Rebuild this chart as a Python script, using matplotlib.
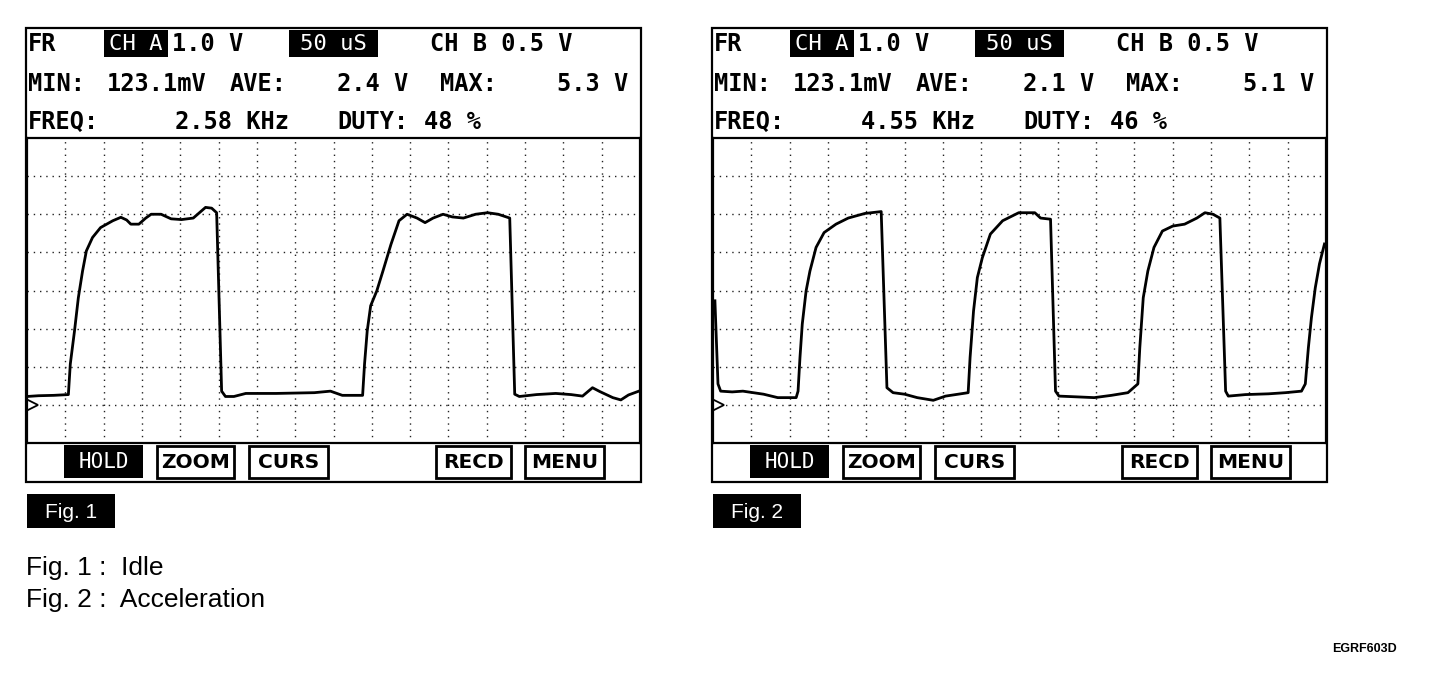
import matplotlib
matplotlib.use("Agg")
import matplotlib.pyplot as plt
from matplotlib.patches import Rectangle

W, H = 1440, 676

# traces in screen divisions (16 across, 8 up)
fig1_t = [0.0, 0.3, 0.7, 1.08, 1.13, 1.24, 1.34, 1.45, 1.55, 1.71, 1.92, 2.24, 2.45, 2.6, 2.71, 2.92,
          3.1, 3.24, 3.5, 3.76, 4.03, 4.34, 4.5, 4.66, 4.82, 4.95,
          5.08, 5.18, 5.4, 5.71, 6.5, 7.5, 7.92, 8.23, 8.76,
          8.81, 8.88, 8.97, 9.13, 9.29, 9.5, 9.71, 9.92, 10.18, 10.39, 10.6, 10.86, 11.1, 11.39,
          11.71, 12.02, 12.3, 12.6,
          12.73, 12.85, 13.3, 13.8, 14.2, 14.5, 14.76, 14.95, 15.29, 15.5, 15.7, 15.97]
fig1_v = [1.22, 1.24, 1.25, 1.27, 2.07, 2.94, 3.81, 4.51, 5.04, 5.39, 5.65, 5.83, 5.92, 5.85, 5.74, 5.74,
          5.9, 6.0, 6.0, 5.88, 5.86, 5.9, 6.04, 6.18, 6.16, 6.04,
          1.36, 1.22, 1.22, 1.3, 1.3, 1.32, 1.36, 1.25, 1.25,
          2.07, 2.94, 3.6, 3.99, 4.51, 5.21, 5.83, 6.0, 5.9, 5.78, 5.9, 6.0, 5.93, 5.9,
          6.0, 6.04, 6.0, 5.9,
          1.28, 1.22, 1.27, 1.3, 1.27, 1.23, 1.45, 1.35, 1.19, 1.13, 1.26, 1.36]

fig2_t = [0.05, 0.13, 0.2, 0.5, 0.78, 1.32, 1.69, 2.17,
          2.22, 2.27, 2.33, 2.43, 2.53, 2.69, 2.9, 3.21, 3.53, 3.96, 4.39,
          4.54, 4.70, 5.0, 5.33, 5.75, 6.07, 6.4, 6.66,
          6.71, 6.80, 6.9, 7.03, 7.24, 7.56, 7.98, 8.4, 8.55, 8.81,
          8.94, 9.03, 9.5, 9.95, 10.4, 10.83, 11.09,
          11.14, 11.23, 11.35, 11.51, 11.73, 12.0, 12.31, 12.63, 12.84, 13.05, 13.23,
          13.38, 13.45, 13.9, 14.5, 14.94, 15.36, 15.46,
          15.54, 15.62, 15.72, 15.83, 15.96]
fig2_v = [3.73, 1.55, 1.36, 1.34, 1.36, 1.28, 1.19, 1.19,
          1.36, 2.24, 3.12, 3.99, 4.51, 5.13, 5.52, 5.74, 5.9, 6.02, 6.07,
          1.45, 1.32, 1.28, 1.19, 1.12, 1.23, 1.28, 1.32,
          2.24, 3.46, 4.34, 4.86, 5.48, 5.83, 6.04, 6.04, 5.9, 5.87,
          1.36, 1.23, 1.21, 1.19, 1.25, 1.32, 1.55,
          2.5, 3.81, 4.51, 5.13, 5.56, 5.69, 5.74, 5.9, 6.04, 6.0, 5.9,
          1.36, 1.23, 1.27, 1.29, 1.32, 1.36, 1.55,
          2.5, 3.29, 4.07, 4.7, 5.22]

min_volts = ["123.1mV", "123.1mV"]
ave_volts = ["2.4 V", "2.1 V"]
max_volts = ["5.3 V", "5.1 V"]
freqs = ["2.58 KHz", "4.55 KHz"]
duties = ["48 %", "46 %"]
fig_tags = ["Fig. 1", "Fig. 2"]
captions = ["Fig. 1 :  Idle", "Fig. 2 :  Acceleration"]
buttons = ["HOLD", "ZOOM", "CURS", "RECD", "MENU"]

MONO = "DejaVu Sans Mono"
SANS = "Liberation Sans"

fig = plt.figure(figsize=(14.4, 6.76), dpi=100)
bg = fig.add_axes([0, 0, 1, 1])
bg.set_xlim(0, W)
bg.set_ylim(H, 0)
bg.axis("off")


def hdr(x, y, s, ha="left", color="black"):
    bg.text(x, y, s, ha=ha, va="center", family=MONO, fontweight="bold",
            fontsize=17, color=color)


def draw_screen(k, dx, t, v):
    # outer frame of the scope screen
    bg.add_patch(Rectangle((26 + dx, 28), 615, 454, fill=False, lw=1.6, ec="black"))

    # header readings
    hdr(28 + dx, 44, "FR")
    bg.add_patch(Rectangle((104 + dx, 30), 64, 27, fc="black", ec="none"))
    bg.text(136 + dx, 44, "CH A", ha="center", va="center", family=MONO,
            fontsize=16, color="white")
    hdr(172 + dx, 44, "1.0 V")
    bg.add_patch(Rectangle((289 + dx, 30), 89, 27, fc="black", ec="none"))
    bg.text(333 + dx, 44, "50 uS", ha="center", va="center", family=MONO,
            fontsize=16, color="white")
    hdr(430 + dx, 44, "CH B 0.5 V")

    hdr(28 + dx, 84, "MIN:")
    hdr(107 + dx, 84, min_volts[k])
    hdr(230 + dx, 84, "AVE:")
    hdr(408 + dx, 84, ave_volts[k], ha="right")
    hdr(440 + dx, 84, "MAX:")
    hdr(628 + dx, 84, max_volts[k], ha="right")

    hdr(28 + dx, 122, "FREQ:")
    hdr(289 + dx, 122, freqs[k], ha="right")
    hdr(337 + dx, 122, "DUTY:")
    hdr(424 + dx, 122, duties[k])

    # soft keys
    boxes = [(64, 143), (157, 234), (249, 328), (436, 511), (525, 604)]
    for i, (x0, x1) in enumerate(boxes):
        if i == 0:
            bg.add_patch(Rectangle((x0 + dx, 445), x1 - x0, 33, fc="black", ec="none"))
            bg.text((x0 + x1) / 2 + dx, 462, buttons[i], ha="center", va="center",
                    family=MONO, fontsize=15, color="white")
        else:
            bg.add_patch(Rectangle((x0 + dx, 446), x1 - x0, 32, fill=False, lw=2, ec="black"))
            bg.text((x0 + x1) / 2 + dx, 462, buttons[i], ha="center", va="center",
                    family="DejaVu Sans", fontweight="bold", fontsize=14.5, color="black")

    # figure tag
    bg.add_patch(Rectangle((27 + dx, 494), 88, 34, fc="black", ec="none"))
    bg.text(71 + dx, 512, fig_tags[k], ha="center", va="center", family=SANS,
            fontsize=15, color="white")

    # graticule + trace
    ax = fig.add_axes([(27 + dx) / W, 1 - 443 / H, 613 / W, 305 / H])
    ax.set_facecolor("none")
    ax.set_xlim(0, 16)
    ax.set_ylim(0, 8)
    ax.set_xticks([])
    ax.set_yticks([])
    for sp in ax.spines.values():
        sp.set_linewidth(1.6)
    for i in range(1, 16):
        ax.axvline(i, color="#222222", lw=1.0, ls=(0, (1, 3.5)))
    for j in range(1, 8):
        ax.axhline(j, color="#222222", lw=1.0, ls=(0, (1, 3.5)))
    ax.plot(t, v, color="black", lw=2.0)
    ax.plot([0.13], [1.0], marker=">", ms=9, mfc="white", mec="black", mew=1.3,
            clip_on=False)


draw_screen(0, 0, fig1_t, fig1_v)
draw_screen(1, 686, fig2_t, fig2_v)

bg.text(26, 568, captions[0], ha="left", va="center", family=SANS, fontsize=19)
bg.text(26, 600, captions[1], ha="left", va="center", family=SANS, fontsize=19)
bg.text(1397, 649, "EGRF603D", ha="right", va="center", family=SANS,
        fontweight="bold", fontsize=9)

fig.savefig("out.png", dpi=100, facecolor="white")
